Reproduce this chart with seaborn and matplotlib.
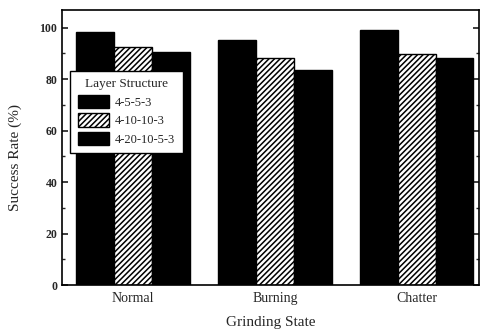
import pandas as pd
import matplotlib.pyplot as plt
from matplotlib.ticker import MultipleLocator
import seaborn as sns

states = ['Normal', 'Burning', 'Chatter']
structures = ['4-5-5-3', '4-10-10-3', '4-20-10-5-3']
rate_4553 = [98.2, 95.3, 99.1]
rate_410103 = [92.4, 88.3, 89.8]
rate_4201053 = [90.4, 83.6, 88.3]

df = pd.DataFrame({
    'state': states * 3,
    'structure': [s for s in structures for _ in states],
    'rate': rate_4553 + rate_410103 + rate_4201053,
})

sns.set_theme(style='ticks')
plt.rcParams['font.family'] = ['Liberation Serif', 'DejaVu Serif']
plt.rcParams['hatch.linewidth'] = 1.1

fig = plt.figure(figsize=(4.82, 3.33), dpi=100)
ax = fig.add_axes([0.129, 0.144, 0.865, 0.826])

sns.barplot(data=df, x='state', y='rate', hue='structure', order=states,
            hue_order=structures, palette=['black', 'white', 'black'],
            edgecolor='black', linewidth=1, width=0.8, saturation=1,
            ax=ax, legend=False)

# hatch the middle series
for patch in ax.containers[1]:
    patch.set_hatch('//////')

ax.set_ylim(0, 106.8)
ax.set_xlim(-0.5, 2.44)
ax.yaxis.set_major_locator(MultipleLocator(20))
ax.yaxis.set_minor_locator(MultipleLocator(10))
ax.tick_params(axis='y', which='both', direction='in', right=True, labelsize=8.5)
ax.tick_params(axis='y', which='major', length=4)
ax.tick_params(axis='y', which='minor', length=2)
ax.tick_params(axis='x', length=0, labelsize=10, pad=5)
for lbl in ax.get_yticklabels():
    lbl.set_fontweight('bold')
for s in ax.spines.values():
    s.set_linewidth(1.2)
    s.set_color('black')

ax.set_xlabel('Grinding State', fontsize=11, labelpad=8)
ax.set_ylabel('Success Rate (%)', fontsize=11)
ax.yaxis.set_label_coords(-0.096, 0.465)

handles = [c.patches[0] for c in ax.containers]
leg = ax.legend(handles, structures, title='Layer Structure', loc='upper left',
                bbox_to_anchor=(0.019, 0.78), fontsize=9, title_fontsize=9.5,
                frameon=True, fancybox=False, edgecolor='black',
                handlelength=2.5, handleheight=1.25, labelspacing=0.38,
                borderpad=0.6, handletextpad=0.5, borderaxespad=0)
leg.get_frame().set_linewidth(1)
leg.get_frame().set_alpha(1)

fig.savefig('out.png', dpi=100)
